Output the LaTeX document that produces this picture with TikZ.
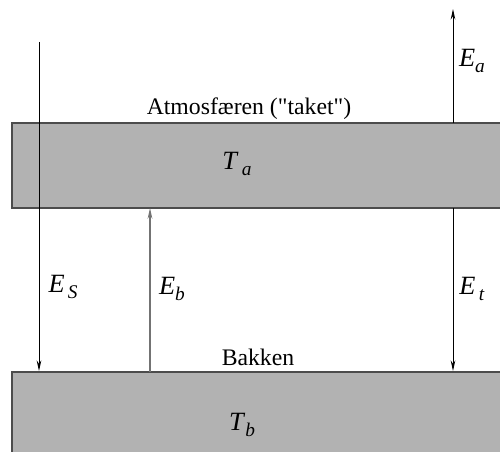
\documentclass[tikz,border=0pt]{standalone}
\usepackage{fontspec}
\setmainfont{Liberation Serif}
\usepackage{tikz}
\usetikzlibrary{positioning,arrows.meta}

% italic symbol with lowered italic index
\newcommand{\qsub}[2]{{\fontsize{15}{17}\selectfont\textit{#1}}\raisebox{-0.6ex}{\fontsize{11}{13}\selectfont\textit{#2}}}

\begin{document}
\begin{tikzpicture}[x=0.02cm,y=-0.02cm,
    every node/.style={font=\fontsize{13.5}{16}\selectfont},
    layer/.style={fill=black!30,draw=black!70,line width=0.6pt},
    flux/.style={line width=0.5pt,-{Stealth[length=6pt,width=2.6pt]}},
    fluxgray/.style={flux,draw=black!55,line width=1pt}]
  \useasboundingbox (0,0) rectangle (500,452);
  \clip (0,0) rectangle (500,452);
  % the two layers
  \draw[layer] (12,123) rectangle (503,208);
  \draw[layer] (12,372) rectangle (503,456);
  % end points of the fluxes
  \coordinate (sTop) at (39,42);
  \coordinate (sBot) at (39,371);
  \coordinate (bBot) at (150,372);
  \coordinate (bTop) at (150,208);
  \coordinate (tTop) at (453,208);
  \coordinate (tBot) at (453,371);
  \coordinate (aBot) at (453,123);
  \coordinate (aTop) at (453,9);
  % fluxes
  \draw[flux] (sTop) -- (sBot);
  \draw[fluxgray] (bBot) -- (bTop);
  \draw[flux] (tTop) -- (tBot);
  \draw[flux] (aBot) -- (aTop);
  % labels
  \node (atmos) at (249,109) {Atmosfæren (\textquotedbl taket\textquotedbl)};
  \node (Ta) at (237,164) {\qsub{T}{\,a}};
  \node (Ea) at (472,61) {\qsub{E}{a}};
  \node (Es) at (63,287) {\qsub{E}{\,S}};
  \node (Eb) at (172,289) {\qsub{E}{b}};
  \node (Et) at (472,289) {\qsub{E}{\,t}};
  \node (ground) at (258,357) {Bakken};
  \node (Tb) at (242,425) {\qsub{T}{b}};
\end{tikzpicture}
\end{document}
